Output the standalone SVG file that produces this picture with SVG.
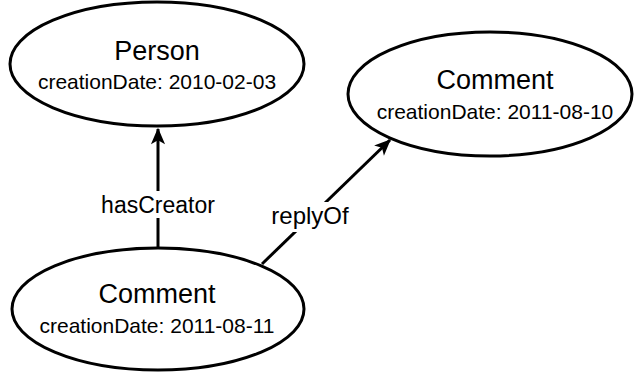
<svg xmlns="http://www.w3.org/2000/svg" width="634" height="376" viewBox="0 0 634 376">
  <style>
    .node { fill: #ffffff; stroke: #000000; stroke-width: 3; }
    .title { font-family: "Liberation Sans", Arial, sans-serif; font-size: 27px; fill: #000; text-anchor: middle; }
    .date { font-family: "Liberation Sans", Arial, sans-serif; font-size: 21px; fill: #000; text-anchor: middle; }
    .edge { fill: none; stroke: #000; stroke-width: 3; }
    .label { font-family: "Liberation Sans", Arial, sans-serif; font-size: 23px; fill: #000; text-anchor: middle; }
    .lbg { fill: #ffffff; stroke: none; }
  </style>
  <defs>
    <marker id="arrow" markerUnits="userSpaceOnUse" markerWidth="20" markerHeight="20" viewBox="-15 -8 17 16" refX="0" refY="0" orient="auto">
      <path d="M1,0 L-13,-6 L-9.5,0 L-13,6 Z" fill="#000" stroke="none"/>
    </marker>
  </defs>
  <rect width="634" height="376" fill="#ffffff"/>
  <g id="connectors">
    <g id="edge-hasCreator">
      <path class="edge" d="M158,248 L158,129" marker-end="url(#arrow)"/>
      <rect class="lbg" x="98" y="191" width="120" height="27"/>
      <text class="label" x="158" y="213">hasCreator</text>
    </g>
    <g id="edge-replyOf">
      <path class="edge" d="M262,264 L390,140" marker-end="url(#arrow)"/>
      <rect class="lbg" x="271" y="202" width="78" height="30"/>
      <text class="label" x="310" y="224" style="font-size:24px">replyOf</text>
    </g>
  </g>
  <g id="node-person">
    <ellipse class="node" cx="157" cy="64" rx="147" ry="62"/>
    <text class="title" x="157" y="60">Person</text>
    <text class="date" x="157" y="89">creationDate: 2010-02-03</text>
  </g>
  <g id="node-comment-top">
    <ellipse class="node" cx="490" cy="94" rx="142" ry="62"/>
    <text class="title" x="495" y="89">Comment</text>
    <text class="date" x="495" y="119">creationDate: 2011-08-10</text>
  </g>
  <g id="node-comment-bottom">
    <ellipse class="node" cx="158" cy="309" rx="146" ry="61"/>
    <text class="title" x="157" y="303">Comment</text>
    <text class="date" x="157" y="333">creationDate: 2011-08-11</text>
  </g>
</svg>
